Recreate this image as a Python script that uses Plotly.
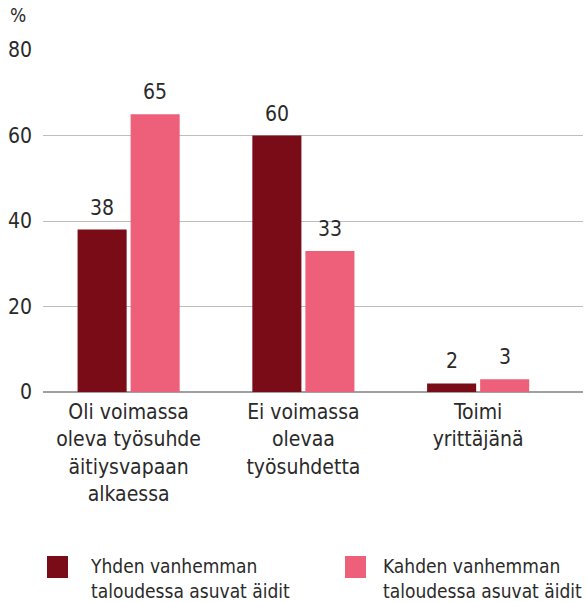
import plotly.graph_objects as go

categories = ["Oli voimassa<br>oleva työsuhde<br>äitiysvapaan<br>alkaessa",
              "Ei voimassa<br>olevaa<br>työsuhdetta",
              "Toimi<br>yrittäjänä"]
series_names = ["Yhden vanhemman<br>taloudessa asuvat äidit",
                "Kahden vanhemman<br>taloudessa asuvat äidit"]
single_parent = [38, 60, 2]
two_parent = [65, 33, 3]
y_ticks = [0, 20, 40, 60, 80]
colors = ["#7a0c18", "#ee607a"]

FONT = "DejaVu Sans Condensed, Roboto, sans-serif"
TXT = "#2a2a2a"
W, H = 587, 602
ML, MR, MT, MB = 43, 4, 50, 210
PW = W - ML - MR
PH = H - MT - MB
BARGAP = 0.393
BARGROUPGAP = 0.075

def px2paper_x(px):
    return (px - ML) / PW

def px2paper_y(py):
    return (H - MB - py) / PH

fig = go.Figure()
all_series = [single_parent, two_parent]
for name, vals, col in zip(series_names, all_series, colors):
    fig.add_trace(go.Bar(
        x=list(range(len(categories))), y=vals, name=name,
        marker=dict(color=col, line=dict(width=0)),
        cliponaxis=False, showlegend=False,
    ))

# value labels above bars (offset derived from the group layout)
slot = (1 - BARGAP) / len(all_series)
for k, vals in enumerate(all_series):
    off = -(1 - BARGAP) / 2 + slot * (k + 0.5)
    for i, v in enumerate(vals):
        fig.add_annotation(x=i + off, y=v, xref="x", yref="y", text=str(v),
                           yanchor="bottom", yshift=8, showarrow=False,
                           font=dict(size=21, color=TXT, family=FONT))

fig.update_layout(
    width=W, height=H,
    margin=dict(l=ML, r=MR, t=MT, b=MB),
    paper_bgcolor="white", plot_bgcolor="white",
    barmode="group", bargap=BARGAP, bargroupgap=BARGROUPGAP,
    font=dict(family=FONT, size=21, color=TXT),
    xaxis=dict(
        tickmode="array", tickvals=list(range(len(categories))), ticktext=categories,
        range=[-0.49, 2.6], showgrid=False, zeroline=False,
        showline=False, ticks="", tickfont=dict(size=21, color=TXT), ticklabelstandoff=5,
    ),
    yaxis=dict(
        range=[0, 80], tickvals=y_ticks, showgrid=True, gridcolor="#bdbdbd",
        gridwidth=1, zeroline=True, zerolinecolor="#a0a0a0", zerolinewidth=2,
        showline=False, ticks="", tickfont=dict(size=21, color=TXT), ticklabelstandoff=10,
    ),
)

fig.add_annotation(text="%", xref="paper", yref="paper", x=px2paper_x(8), y=px2paper_y(15),
                   xanchor="left", yanchor="middle", showarrow=False,
                   font=dict(size=19, color=TXT, family=FONT))

legend_pos = [(47, 88), (345, 381)]
for (sx, tx), name, col in zip(legend_pos, series_names, colors):
    fig.add_shape(type="rect", xref="paper", yref="paper",
                  x0=px2paper_x(sx), x1=px2paper_x(sx + 21),
                  y0=px2paper_y(578), y1=px2paper_y(556),
                  fillcolor=col, line=dict(width=0))
    fig.add_annotation(text=name, xref="paper", yref="paper",
                       x=px2paper_x(tx), y=px2paper_y(578), xanchor="left", yanchor="middle",
                       align="left", showarrow=False,
                       font=dict(size=19, color=TXT, family=FONT))

fig.write_html("out.html", config={"displayModeBar": False},
               post_script="document.body.style.margin='0';")
